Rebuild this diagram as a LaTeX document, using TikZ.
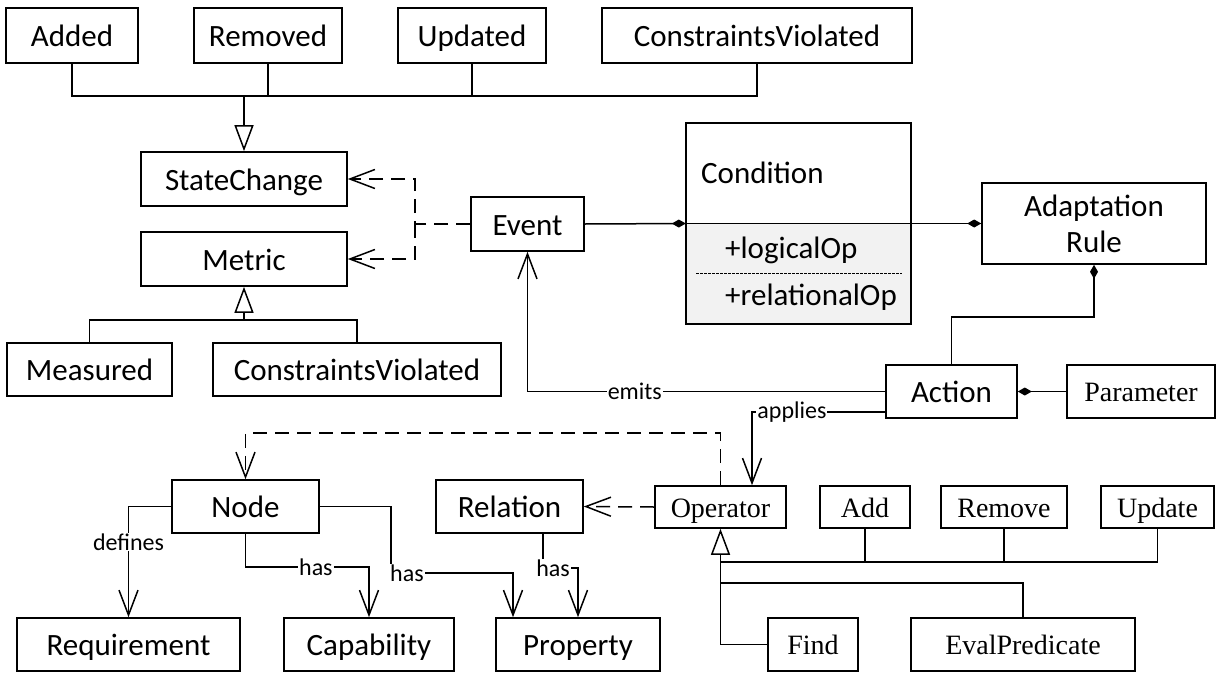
\documentclass[tikz,border=0pt]{standalone}
\usepackage{fontspec}
\setmainfont{Carlito}
\newfontfamily\tms{Liberation Serif}
\usetikzlibrary{arrows.meta,calc}
\newcommand{\mainf}{\fontsize{31}{36}\selectfont}
\newcommand{\timf}{\tms\fontsize{28}{32}\selectfont}
\newcommand{\lblf}{\fontsize{24}{28}\selectfont}
\definecolor{condfill}{HTML}{F2F2F2}
\begin{document}
\begin{tikzpicture}[x=1pt,y=-1pt,
  basebox/.style={draw, line width=1.6pt, inner sep=0pt, font=\mainf, minimum height=54pt},
  umlbox/.style={basebox, text height=22pt, text depth=0pt},
  tbox/.style={basebox, font=\timf, minimum height=42pt, text height=20pt, text depth=0pt},
  conn/.style={line width=1.5pt},
  gen/.style={conn, -{Triangle[open,length=26pt,width=19pt]}},
  dep/.style={conn, dash pattern=on 14pt off 8pt, -{Straight Barb[length=25pt,width=19pt]}},
  assoc/.style={conn, -{Straight Barb[length=25pt,width=19pt]}},
  comp/.style={conn, -{Diamond[length=14pt,width=8pt]}},
  lbl/.style={fill=white, inner sep=1pt, font=\lblf},
]
\useasboundingbox (0,0) rectangle (1218,672);

% top row
\node[umlbox, minimum width=132pt, minimum height=55pt] (added) at (72,35.5) {Added};
\node[umlbox, minimum width=148pt, minimum height=55pt] (removed) at (268,35.5) {Removed};
\node[umlbox, minimum width=148pt, minimum height=55pt] (updated) at (472,35.5) {Updated};
\node[umlbox, minimum width=310pt, minimum height=55pt] (cvtop) at (757,35.5) {ConstraintsViolated};

\node[umlbox, minimum width=206pt] (statechange) at (244,179) {StateChange};
\node[umlbox, minimum width=206pt] (metric) at (244,259) {Metric};
\node[umlbox, minimum width=165pt, minimum height=53pt] (measured) at (89.5,369.5) {Measured};
\node[umlbox, minimum width=288pt, minimum height=53pt] (cvlow) at (357,369.5) {ConstraintsViolated};
\node[umlbox, minimum width=113pt] (event) at (527.5,224) {Event};

% Condition
\node[minimum width=225pt, minimum height=201pt, inner sep=0pt] (cond) at (798.5,223.5) {};
\fill[condfill] (cond.west) rectangle (cond.south east);
\draw[line width=1.6pt] (cond.north west) rectangle (cond.south east);
\draw[line width=1.6pt] (cond.west) -- (cond.east);
\draw[line width=0.9pt, dash pattern=on 2.5pt off 1.5pt] (696,273) -- (902,273);
\node[anchor=base west, inner sep=0pt, font=\mainf] (condname) at (701,183) {Condition};
\node[anchor=base west, inner sep=0pt, font=\mainf] (logop) at (725,258) {+logicalOp};
\node[anchor=base west, inner sep=0pt, font=\mainf] (relop) at (725,305) {+relationalOp};

\node[basebox, minimum width=224pt, minimum height=81pt, align=center] (ar) at (1094,223.5) {Adaptation\\Rule};
\node[umlbox, minimum width=131pt, minimum height=53pt] (action) at (951.5,391.5) {Action};
\node[tbox, minimum width=148pt, minimum height=53pt] (parameter) at (1141,391.5) {Parameter};

% lower part
\node[umlbox, minimum width=147pt, minimum height=53pt] (nd) at (245.5,506.5) {Node};
\node[umlbox, minimum width=147pt, minimum height=53pt] (rel) at (509.5,506.5) {Relation};
\node[tbox, minimum width=131pt] (operator) at (720.5,507) {Operator};
\node[tbox, minimum width=90pt] (add) at (865,507) {Add};
\node[tbox, minimum width=126pt] (remove) at (1004,507) {Remove};
\node[tbox, minimum width=113pt] (update) at (1157.5,507) {Update};
\node[umlbox, minimum width=223pt, minimum height=53pt] (req) at (128.5,644.5) {Requirement};
\node[umlbox, minimum width=170pt, minimum height=53pt] (cap) at (369,644.5) {Capability};
\node[umlbox, minimum width=164pt, minimum height=53pt] (prop) at (578,644.5) {Property};
\node[tbox, minimum width=90pt, minimum height=53pt] (find) at (813,644.5) {Find};
\node[tbox, minimum width=224pt, minimum height=53pt] (evalp) at (1023,644.5) {EvalPredicate};

% StateChange generalization
\coordinate (scj) at (244,96);
\draw[conn] (added.south) -- (added.south |- scj) -- (cvtop.south |- scj) -- (cvtop.south);
\draw[conn] (removed.south) -- (removed.south |- scj);
\draw[conn] (updated.south) -- (updated.south |- scj);
\draw[gen] (scj) -- (statechange.north);

% Metric generalization
\coordinate (mj) at (244,320);
\draw[conn] (measured.north) |- (mj) -| (cvlow.north);
\draw[gen] (mj) -- (metric.south);

% Event dependencies
\coordinate (dj) at (415,224);
\draw[dep] (event.west) -- (dj) |- (statechange.east);
\draw[dep] (dj) |- (metric.east);

% compositions
\draw[comp] (event.east) -- (cond.west);
\draw[comp] (cond.east) -- (ar.west);
\coordinate (aj) at (1094,317);
\draw[comp] (action.north) |- (aj) -- (ar.south);
\draw[comp] (parameter.west) -- (action.east);

% emits / applies
\draw[assoc] (action.west) -| (event.south) node[lbl, pos=0.35] {emits};
\draw[assoc] ([yshift=-20.5pt]action.west) -| ([xshift=31.5pt]operator.north) node[lbl, pos=0.35] {applies};

% Operator dependencies
\coordinate (oj) at (720.5,433);
\draw[dep] (operator.north) -- (oj) -| (nd.north);
\draw[dep] (operator.west) -- (rel.east);

% Operator generalization
\coordinate (g1) at (720.5,562);
\coordinate (g2) at (720.5,583);
\draw[conn] (update.south) |- (g1);
\draw[conn] (add.south) -- (add.south |- g1);
\draw[conn] (remove.south) -- (remove.south |- g1);
\draw[conn] (evalp.north) |- (g2);
\draw[conn] (find.west) -| (g1);
\draw[gen] (g1) -- (operator.south);

% Node associations
\draw[assoc] (nd.west) -| (req.north) node[lbl, pos=0.66] {defines};
\coordinate (h1) at (369,567);
\draw[assoc] (nd.south) |- (h1) node[lbl, pos=0.785] {has} -- (cap.north);
\coordinate (h2) at (391,573);
\draw[assoc] (nd.east) -| (h2) -| ([xshift=-65pt]prop.north);
\node[lbl, anchor=west] (has2) at (389,573) {has};
\coordinate (h3) at (578,568);
\draw[assoc] ([xshift=33.5pt]rel.south) |- (h3) -- (prop.north);
\node[lbl] (has3) at (553,568) {has};
\end{tikzpicture}
\end{document}
